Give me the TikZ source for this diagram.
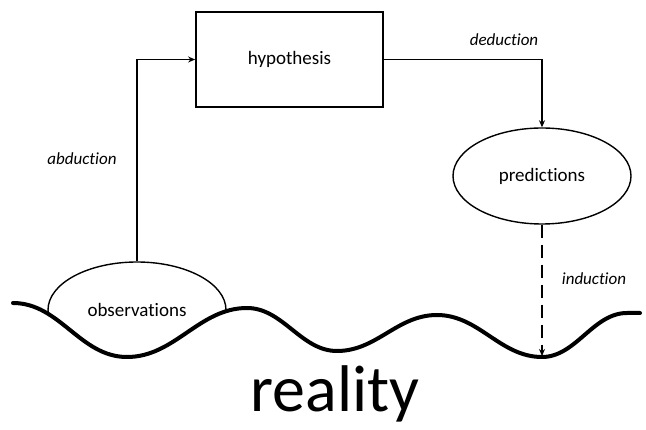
\documentclass[tikz,border=0pt]{standalone}
\usepackage{fontspec}
\setmainfont{Carlito}[RawFeature={-liga;-clig;-dlig}]
\usetikzlibrary{arrows.meta,shapes.geometric}
\begin{document}
\begin{tikzpicture}[x=1pt,y=-1pt,
  lbl/.style={font=\fontsize{17}{20}\selectfont\itshape, inner sep=0pt},
  txt/.style={font=\fontsize{19}{23}\selectfont},
  boxnode/.style={draw, line width=1.8pt, minimum width=187pt, minimum height=95pt, inner sep=0pt, txt},
  ellnode/.style={ellipse, line width=1.4pt, minimum width=178pt, minimum height=96pt, inner sep=0pt, txt},
  flow/.style={line width=1.8pt, -{Stealth[length=7pt,width=6pt]}},
  ground/.style={line width=4pt, line cap=round}]
\useasboundingbox (0,0) rectangle (646,430);

% nodes
\node[boxnode] (hyp) at (289.5,59.5) {hypothesis};
\node[ellnode, draw] (pred) at (542,176) {predictions};
\node[ellnode] (obs) at (137,310) {observations};
\coordinate (trough) at (542,356);

% outline of the observations bubble, only the part above the ground
\begin{scope}
  \clip (13,303) .. controls (60,303) and (80,357) .. (127,357)
        .. controls (175,357) and (199,308) .. (247,308)
        .. controls (283,308) and (301,351) .. (337,351)
        .. controls (377,351) and (397,315) .. (437,315)
        .. controls (479,315) and (500,357) .. (542,357)
        .. controls (576,357) and (593,313) .. (627,313)
        -- (642,313) -- (642,0) -- (13,0) -- cycle;
  \draw[line width=1.4pt] (obs.center) ellipse [x radius=89pt, y radius=48pt];
\end{scope}

% ground line
\draw[ground] (13,303) .. controls (60,303) and (80,357) .. (127,357)
      .. controls (175,357) and (199,308) .. (247,308)
      .. controls (283,308) and (301,351) .. (337,351)
      .. controls (377,351) and (397,315) .. (437,315)
      .. controls (479,315) and (500,357) .. (542,357)
      .. controls (576,357) and (593,313) .. (627,313)
      -- (640,313);

% connectors
\draw[flow] (obs.north) |- (hyp.west);
\draw[flow] (hyp.east) -| (pred.north);
\draw[flow, dash pattern=on 13pt off 7pt] (pred.south) -- (trough);

% labels
\node[lbl] (abd) at (82,159) {abduction};
\node[lbl] (ded) at (504,40) {deduction};
\node[lbl] (ind) at (594,279) {induction};
\node[font=\fontsize{66}{80}\selectfont, inner sep=0pt, anchor=base] (real) at (335,412) {reality};
\end{tikzpicture}
\end{document}
